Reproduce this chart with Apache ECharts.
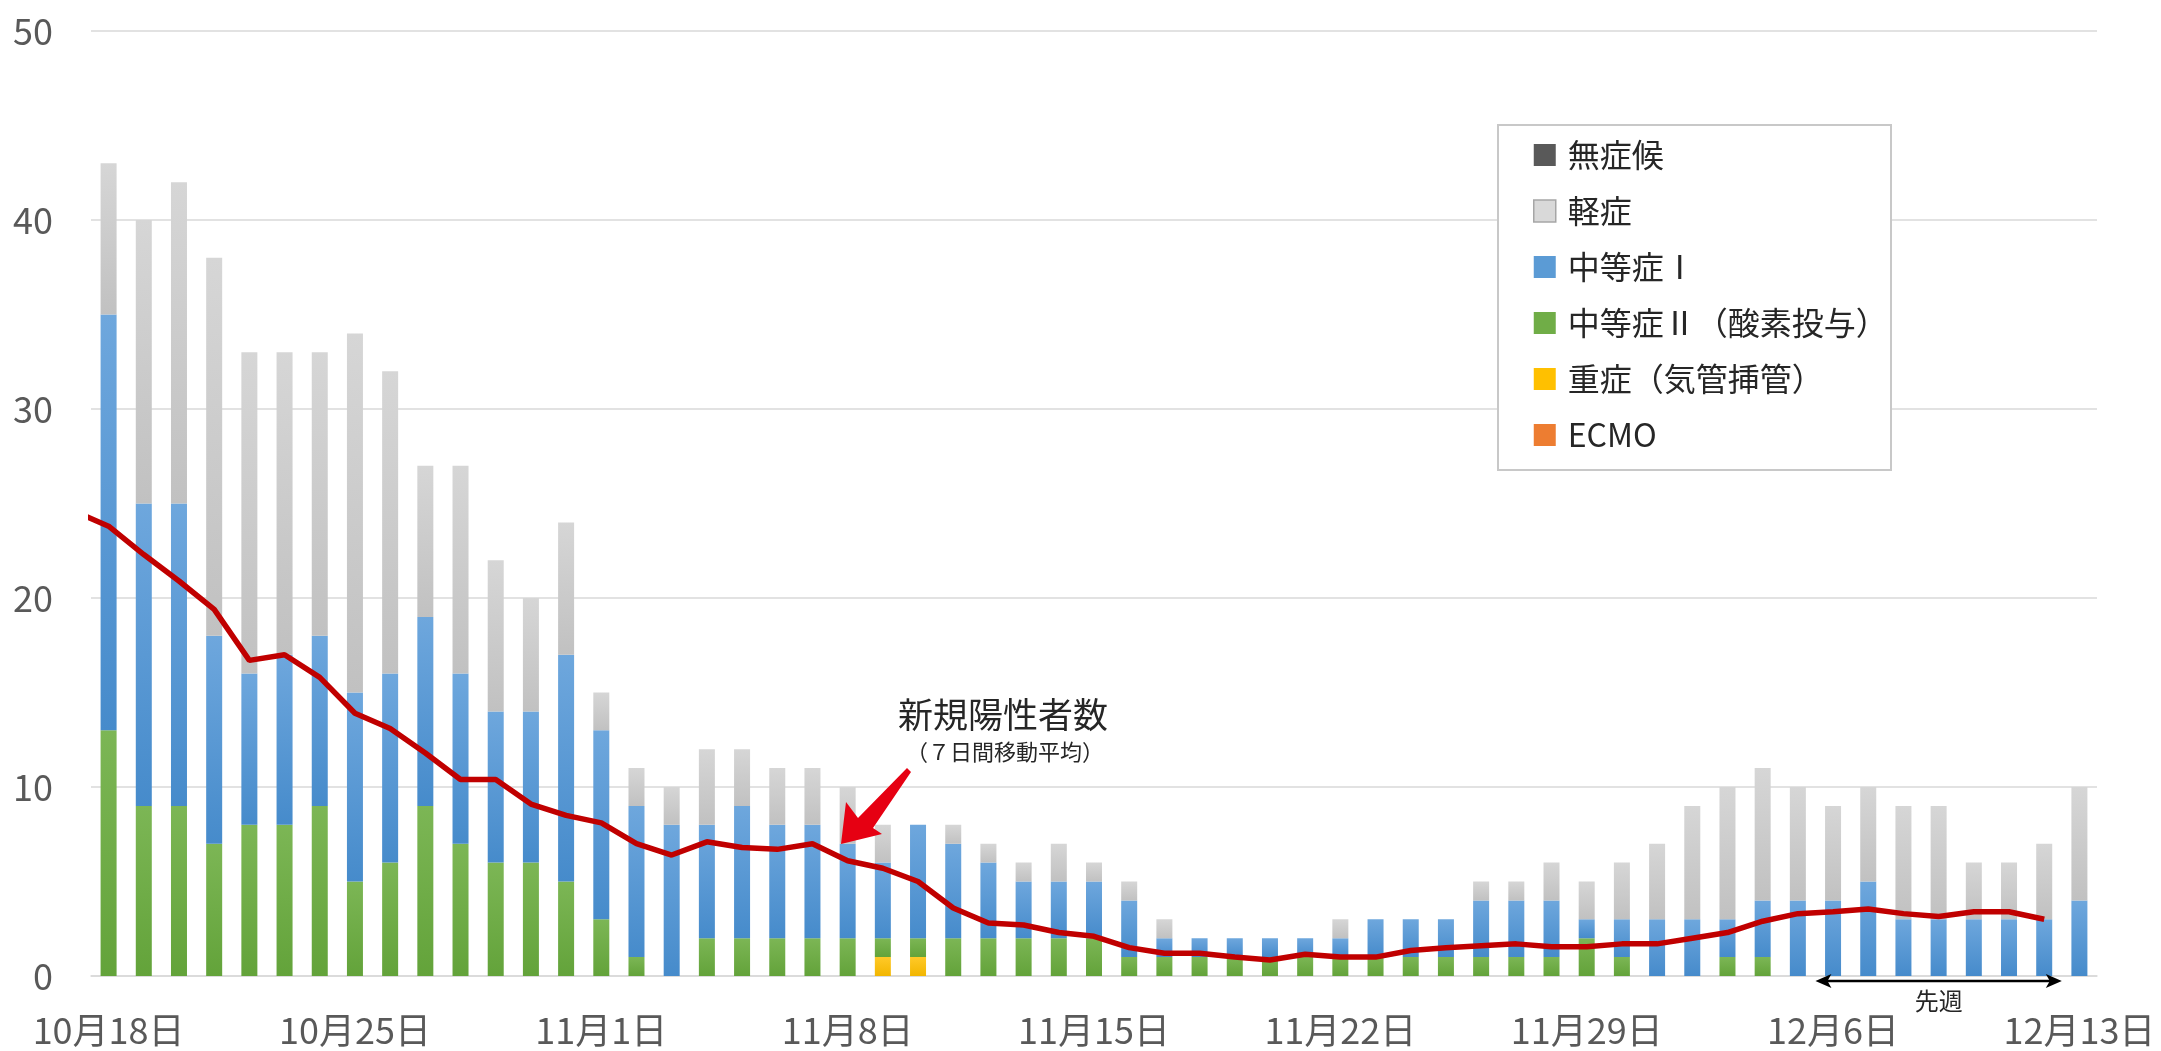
<!DOCTYPE html>
<html><head><meta charset="utf-8">
<script src="https://cdn.jsdelivr.net/npm/echarts/dist/echarts.min.js"></script>
<style>html,body{margin:0;padding:0;background:#fff}#c{width:2161px;height:1051px}</style>
</head><body><div id="c"></div>
<script>
// ---- data ----
const categories = [
 '10月18日','10月19日','10月20日','10月21日','10月22日','10月23日','10月24日',
 '10月25日','10月26日','10月27日','10月28日','10月29日','10月30日','10月31日',
 '11月1日','11月2日','11月3日','11月4日','11月5日','11月6日','11月7日',
 '11月8日','11月9日','11月10日','11月11日','11月12日','11月13日','11月14日',
 '11月15日','11月16日','11月17日','11月18日','11月19日','11月20日','11月21日',
 '11月22日','11月23日','11月24日','11月25日','11月26日','11月27日','11月28日',
 '11月29日','11月30日','12月1日','12月2日','12月3日','12月4日','12月5日',
 '12月6日','12月7日','12月8日','12月9日','12月10日','12月11日','12月12日',
 '12月13日'];
const seriesNames = ['無症候','軽症','中等症Ⅰ','中等症Ⅱ（酸素投与）','重症（気管挿管）','ECMO'];
const asymptomatic = new Array(57).fill(0);
const mild = [8,15,17,20,17,16,15, 19,16,8,11,8,6,7, 2,2,2,4,3,3,3, 3,2,0,1,1,1,2, 1,1,1,0,0,0,0, 1,0,0,0,1,1,2, 2,3,4,6,7,7,6, 5,5,6,6,3,3,4, 6];
const moderate1 = [22,16,16,11,8,9,9, 10,10,10,9,8,8,12, 10,8,8,6,7,6,6, 5,4,6,5,4,3,3, 3,3,1,1,1,1,1, 1,2,2,2,3,3,3, 1,2,3,3,2,3,4, 4,5,3,3,3,3,3, 4];
const moderate2 = [13,9,9,7,8,8,9, 5,6,9,7,6,6,5, 3,1,0,2,2,2,2, 2,1,1,2,2,2,2, 2,1,1,1,1,1,1, 1,1,1,1,1,1,1, 2,1,0,0,1,1,0, 0,0,0,0,0,0,0, 0];
const severe = [0,0,0,0,0,0,0, 0,0,0,0,0,0,0, 0,0,0,0,0,0,0, 0,1,1,0,0,0,0, 0,0,0,0,0,0,0, 0,0,0,0,0,0,0, 0,0,0,0,0,0,0, 0,0,0,0,0,0,0, 0];
const ecmo = new Array(57).fill(0);
// 7-day moving average of new positives; first value is 10/17 (off-chart, index -1)
const avgStartIndex = -1;
const movingAvg = [24.6, 23.8,22.3,20.9,19.4,16.7,17.0,15.8, 13.9,13.1,11.8,10.4,10.4,9.1,8.5,
 8.1,7.0,6.4,7.1,6.8,6.7,7.0, 6.1,5.7,5.0,3.6,2.8,2.7,2.3, 2.1,1.5,1.2,1.2,1.0,0.85,1.15,
 1.0,1.0,1.35,1.5,1.6,1.7,1.55, 1.55,1.7,1.7,2.0,2.3,2.9,3.3, 3.4,3.55,3.3,3.15,3.4,3.4,3.0];
const yTicks = {min:0, max:50, interval:10};
const annotationTitle = '新規陽性者数';
const annotationSub = '（７日間移動平均）';
const lastWeekLabel = '先週';
const lastWeekRange = [49, 56]; // category boundaries

// ---- chart ----
const FF = '"Noto Sans CJK JP","Noto Sans",sans-serif';
const chart = echarts.init(document.getElementById('c'), null, {renderer:'canvas'});
function grad(t, b){ return new echarts.graphic.LinearGradient(0,0,0,1,[{offset:0,color:t},{offset:1,color:b}]); }
const nz = a => a.map(v => v === 0 ? '-' : v);
function bar(name, data, color){
  return {name, type:'bar', stack:'s', data:nz(data), barWidth:16, itemStyle:{color}, emphasis:{disabled:true}};
}
const series = [
  bar(seriesNames[5], ecmo, grad('#f28a45','#e2701f')),
  bar(seriesNames[4], severe, grad('#ffc928','#f2b600')),
  bar(seriesNames[3], moderate2, grad('#7cb655','#63a33a')),
  bar(seriesNames[2], moderate1, grad('#6ea7dd','#468bcb')),
  bar(seriesNames[1], mild, grad('#d6d6d6','#c1c1c1')),
  bar(seriesNames[0], asymptomatic, '#595959'),
  {name:'avg', type:'line', xAxisIndex:1, data: movingAvg.map((v,i)=>[i+avgStartIndex, v]),
   showSymbol:false, symbol:'none', clip:true, lineStyle:{color:'#c00000', width:5.5}, z:5, emphasis:{disabled:true}}
];
const legendColors = {'無症候':'#595959','軽症':'#d9d9d9','中等症Ⅰ':'#5b9bd5','中等症Ⅱ（酸素投与）':'#70ad47','重症（気管挿管）':'#ffc000','ECMO':'#ed7d31'};
chart.setOption({
  animation:false,
  backgroundColor:'#fff',
  grid:{left:91, right:64, top:31, bottom:75, containLabel:false},
  xAxis:[{
    type:'category', data:categories, boundaryGap:true,
    axisLine:{lineStyle:{color:'#d9d9d9', width:1.5}},
    axisTick:{interval:6, length:12, lineStyle:{color:'#d9d9d9', width:1.5}},
    axisLabel:{interval:6, fontSize:36, color:'#595959', fontFamily:FF, margin:36}
  },{
    type:'value', min:-0.5, max:56.5, show:false
  }],
  yAxis:{type:'value', min:yTicks.min, max:yTicks.max, interval:yTicks.interval,
    axisLine:{show:false}, axisTick:{show:false},
    splitLine:{lineStyle:{color:'#d9d9d9', width:1.5}},
    axisLabel:{fontSize:36, color:'#595959', fontFamily:FF, margin:38}},
  legend:{
    orient:'vertical', left:1528, top:134, itemWidth:22, itemHeight:22, itemGap:24, icon:'rect',
    selectedMode:false, z:6,
    textStyle:{fontSize:32, color:'#262626', fontFamily:FF, lineHeight:32, padding:[0,0,0,7]},
    data: seriesNames.map(n => ({name:n, itemStyle:{color:legendColors[n], borderColor: n==='軽症' ? '#a6a6a6' : legendColors[n], borderWidth: n==='軽症' ? 1.5 : 0}}))
  },
  series
});

// annotation graphics positioned from axis scale
const xb0 = chart.convertToPixel({xAxisIndex:1}, lastWeekRange[0]-0.5);
const xb1 = chart.convertToPixel({xAxisIndex:1}, lastWeekRange[1]-0.5);
const yb = chart.convertToPixel({yAxisIndex:0}, 0) + 5;
chart.setOption({
  graphic:[
    {type:'rect', z:3, shape:{x:1498, y:125, width:393, height:345}, style:{fill:'#fff', stroke:'#c8c8c8', lineWidth:2}},
    {type:'text', z:10, x:1003, y:715, style:{text:annotationTitle, font:'35px '+FF, fill:'#262626', textAlign:'center', textVerticalAlign:'middle'}},
    {type:'text', z:10, x:1005, y:752, style:{text:annotationSub, font:'22px '+FF, fill:'#262626', textAlign:'center', textVerticalAlign:'middle'}},
    {type:'polygon', z:10, shape:{points:[[841,844],[846,802],[858,818],[907,768],[911,772],[873,828],[882,834]]}, style:{fill:'#e60012'}},
    {type:'line', z:10, shape:{x1:xb0+10, y1:yb, x2:xb1-10, y2:yb}, style:{stroke:'#000', lineWidth:2.5}},
    {type:'polygon', z:10, shape:{points:[[xb0,yb],[xb0+16,yb-7],[xb0+12,yb],[xb0+16,yb+7]]}, style:{fill:'#000'}},
    {type:'polygon', z:10, shape:{points:[[xb1,yb],[xb1-16,yb-7],[xb1-12,yb],[xb1-16,yb+7]]}, style:{fill:'#000'}},
    {type:'text', z:10, x:(xb0+xb1)/2, y:yb+20, style:{text:lastWeekLabel, font:'24px '+FF, fill:'#262626', textAlign:'center', textVerticalAlign:'middle'}}
  ]
});
</script>
</body></html>
